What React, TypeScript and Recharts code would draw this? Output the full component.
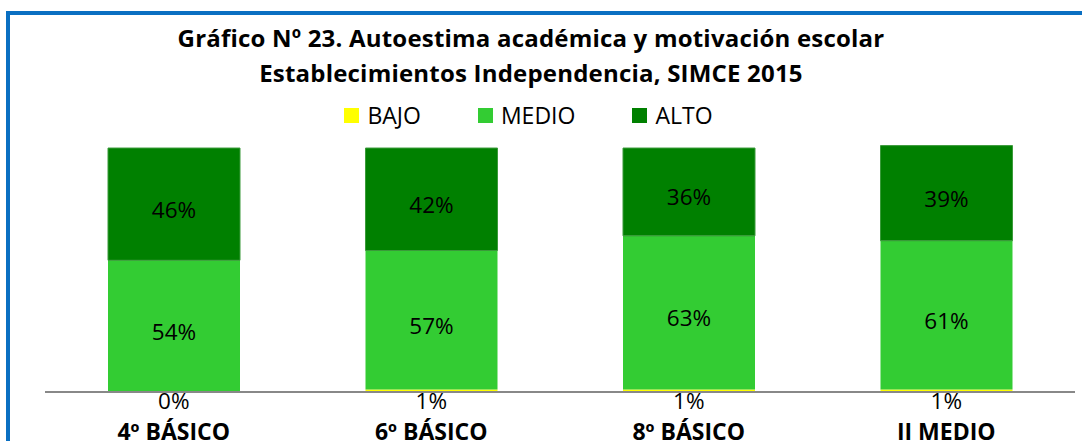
import React from 'react';
import { BarChart, Bar, XAxis, YAxis, LabelList } from 'recharts';

const categories = ['4º BÁSICO', '6º BÁSICO', '8º BÁSICO', 'II MEDIO'];
const bajo = [0, 1, 1, 1];
const medio = [54, 57, 63, 61];
const alto = [46, 42, 36, 39];
const seriesNames = ['BAJO', 'MEDIO', 'ALTO'];
const seriesColors = ['#FFFF00', '#33CC33', '#008000'];
const titleLines = ['Gráfico Nº 23. Autoestima académica y motivación escolar', 'Establecimientos Independencia, SIMCE 2015'];

const data = categories.map((name, i) => ({ name, BAJO: bajo[i], MEDIO: medio[i], ALTO: alto[i] }));

const FONT = '"Open Sans", sans-serif';

const centerLabel = (props: any) => {
  const { x, y, width, height, value } = props;
  return (
    <text x={x + width / 2} y={y + height / 2 + 5} textAnchor="middle" dominantBaseline="central" fontFamily={FONT} fontSize={22.5} fill="#000">
      {value}%
    </text>
  );
};

const CategoryTick = (props: any) => {
  const { x, y, payload, index } = props;
  return (
    <g>
      <text x={x} y={y + 8} textAnchor="middle" dominantBaseline="central" fontFamily={FONT} fontSize={22.5} fill="#000">
        {bajo[index]}%
      </text>
      <text x={x} y={y + 39} textAnchor="middle" dominantBaseline="central" fontFamily={FONT} fontWeight={700} fontSize={23} fill="#000">
        {payload.value}
      </text>
    </g>
  );
};

export default function App() {
  return (
    <div style={{ position: 'absolute', left: 0, top: 0, width: 1082, height: 441, background: '#fff', overflow: 'hidden' }}>
      <div style={{ position: 'absolute', left: 6, top: 11, width: 1100, height: 460, borderLeft: '4px solid #0A6FC2', borderTop: '4px solid #0A6FC2' }} />
      <div style={{ position: 'absolute', left: 0, top: 20, width: 1062, textAlign: 'center', fontFamily: FONT, fontWeight: 700, fontSize: 24, lineHeight: '35px', color: '#000', letterSpacing: 0.2 }}>
        {titleLines.map((t) => (
          <div key={t}>{t}</div>
        ))}
      </div>
      <div style={{ position: 'absolute', left: 0, top: 100, width: 1057, height: 30, display: 'flex', justifyContent: 'center', alignItems: 'center', gap: 57, fontFamily: FONT, fontSize: 23, color: '#000' }}>
        {seriesNames.map((n, i) => (
          <div key={n} style={{ display: 'flex', alignItems: 'center', gap: 8 }}>
            <span style={{ display: 'block', flex: '0 0 15px', width: 15, height: 15, background: seriesColors[i] }} />
            <span>{n}</span>
          </div>
        ))}
      </div>
      <div style={{ position: 'absolute', left: 0, top: 0 }}>
        <BarChart width={1082} height={441} data={data} margin={{ top: 145.6, right: 7, bottom: 0, left: 45 }} barSize={132}>
          <YAxis hide domain={[0, 101]} />
          <XAxis dataKey="name" height={49} tickLine={false} tickSize={0} tickMargin={0} axisLine={{ stroke: '#888888', strokeWidth: 2 }} tick={<CategoryTick />} interval={0} />
          <Bar dataKey="BAJO" stackId="a" fill={seriesColors[0]} isAnimationActive={false} />
          <Bar dataKey="MEDIO" stackId="a" fill={seriesColors[1]} isAnimationActive={false}>
            <LabelList dataKey="MEDIO" content={centerLabel} />
          </Bar>
          <Bar dataKey="ALTO" stackId="a" fill={seriesColors[2]} stroke="#3A9A3A" strokeWidth={1} isAnimationActive={false}>
            <LabelList dataKey="ALTO" content={centerLabel} />
          </Bar>
        </BarChart>
      </div>
    </div>
  );
}
